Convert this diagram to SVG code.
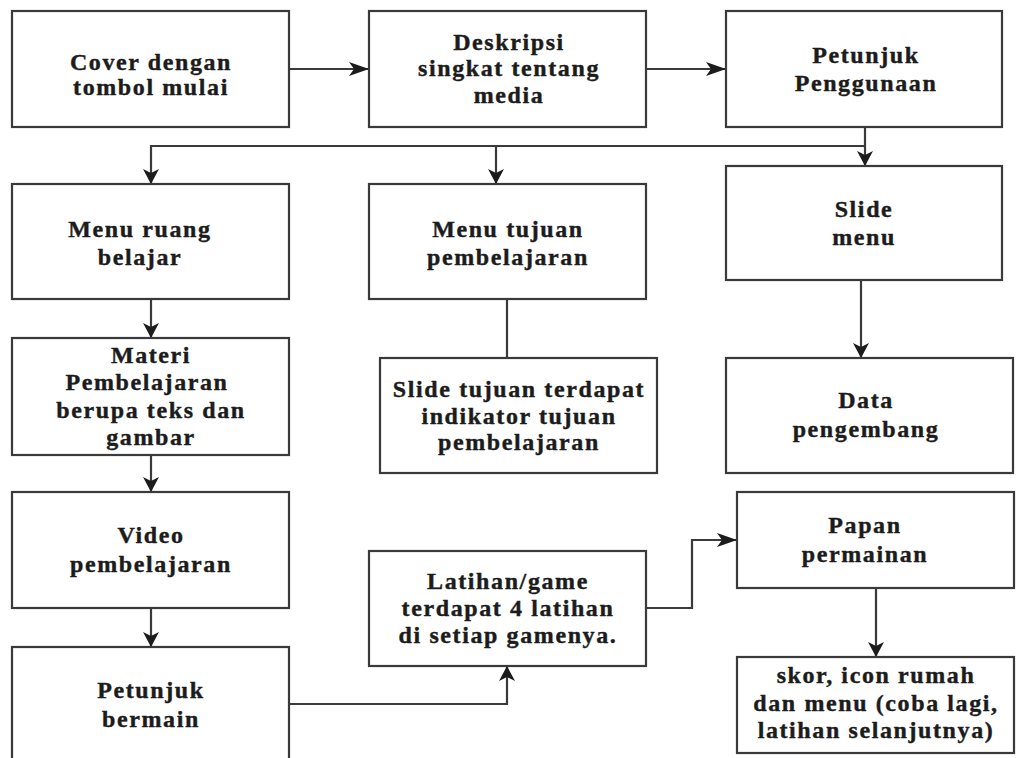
<svg xmlns="http://www.w3.org/2000/svg" width="1016" height="758" viewBox="0 0 1016 758">
<style>
.box{fill:#fff;stroke:#3a3a3a;stroke-width:2.2}
.t{font-family:"Liberation Serif","Times New Roman",serif;font-weight:bold;font-size:24px;letter-spacing:1.6px;fill:#1c1c1c;stroke:#1c1c1c;stroke-width:0.4;text-anchor:middle}
.c{fill:none;stroke:#3a3a3a;stroke-width:2.2}
</style>
<defs>
<marker id="av" viewBox="0 0 15 16" markerWidth="15" markerHeight="16" refX="15" refY="8" orient="auto" markerUnits="userSpaceOnUse"><path d="M0,0 L15,8 L0,16 L4,8 z" fill="#1c1c1c"/></marker>
<marker id="ah" viewBox="0 0 20 14" markerWidth="20" markerHeight="14" refX="20" refY="7" orient="auto" markerUnits="userSpaceOnUse"><path d="M0,0 L20,7 L0,14 L5,7 z" fill="#1c1c1c"/></marker>
</defs>
<rect width="1016" height="758" fill="#fff"/>
<g id="connectors">
<line class="c" x1="289" y1="69" x2="369" y2="69" marker-end="url(#ah)"/>
<line class="c" x1="646" y1="69" x2="726" y2="69" marker-end="url(#ah)"/>
<line class="c" x1="865" y1="127" x2="865" y2="166" marker-end="url(#av)"/>
<polyline class="c" points="865,146 151,146 151,184" marker-end="url(#av)"/>
<line class="c" x1="496" y1="146" x2="496" y2="184" marker-end="url(#av)"/>
<line class="c" x1="151" y1="299" x2="151" y2="338" marker-end="url(#av)"/>
<line class="c" x1="151" y1="455" x2="151" y2="492" marker-end="url(#av)"/>
<line class="c" x1="151" y1="608" x2="151" y2="647" marker-end="url(#av)"/>
<line class="c" x1="507" y1="299" x2="507" y2="358"/>
<line class="c" x1="861" y1="280" x2="861" y2="358" marker-end="url(#av)"/>
<polyline class="c" points="289,704 507,704 507,666" marker-end="url(#av)"/>
<polyline class="c" points="646,608 692,608 692,540 737,540" marker-end="url(#ah)"/>
<line class="c" x1="876" y1="588" x2="876" y2="657" marker-end="url(#av)"/>
</g>
<g id="cover"><rect class="box" x="12" y="11" width="277" height="116"/>
<text class="t" x="151" y="70">Cover dengan</text><text class="t" x="151" y="95">tombol mulai</text></g>
<g id="deskripsi"><rect class="box" x="369" y="11" width="277" height="116"/>
<text class="t" x="509" y="50">Deskripsi</text><text class="t" x="509" y="76">singkat tentang</text><text class="t" x="509" y="103">media</text></g>
<g id="petunjuk-penggunaan"><rect class="box" x="726" y="11" width="276" height="116"/>
<text class="t" x="866" y="63">Petunjuk</text><text class="t" x="866" y="91">Penggunaan</text></g>
<g id="menu-ruang"><rect class="box" x="12" y="184" width="277" height="115"/>
<text class="t" x="140" y="237">Menu ruang</text><text class="t" x="140" y="265">belajar</text></g>
<g id="menu-tujuan"><rect class="box" x="369" y="184" width="277" height="115"/>
<text class="t" x="508" y="237">Menu tujuan</text><text class="t" x="508" y="265">pembelajaran</text></g>
<g id="slide-menu"><rect class="box" x="726" y="166" width="276" height="114"/>
<text class="t" x="864" y="217">Slide</text><text class="t" x="864" y="245">menu</text></g>
<g id="materi"><rect class="box" x="12" y="338" width="277" height="117"/>
<text class="t" x="151" y="363">Materi</text><text class="t" x="147" y="390">Pembelajaran</text><text class="t" x="151" y="418">berupa teks dan</text><text class="t" x="151" y="445">gambar</text></g>
<g id="slide-tujuan"><rect class="box" x="380" y="358" width="277" height="115"/>
<text class="t" x="519" y="397">Slide tujuan terdapat</text><text class="t" x="519" y="424">indikator tujuan</text><text class="t" x="519" y="450">pembelajaran</text></g>
<g id="data-pengembang"><rect class="box" x="726" y="358" width="287" height="115"/>
<text class="t" x="866" y="408">Data</text><text class="t" x="866" y="437">pengembang</text></g>
<g id="video"><rect class="box" x="12" y="492" width="277" height="116"/>
<text class="t" x="151" y="543">Video</text><text class="t" x="151" y="572">pembelajaran</text></g>
<g id="petunjuk-bermain"><rect class="box" x="12" y="647" width="277" height="130"/>
<text class="t" x="151" y="698">Petunjuk</text><text class="t" x="151" y="727">bermain</text></g>
<g id="latihan"><rect class="box" x="369" y="551" width="277" height="115"/>
<text class="t" x="508" y="589">Latihan/game</text><text class="t" x="508" y="616">terdapat 4 latihan</text><text class="t" x="508" y="643">di setiap gamenya.</text></g>
<g id="papan"><rect class="box" x="737" y="492" width="277" height="96"/>
<text class="t" x="865" y="533">Papan</text><text class="t" x="865" y="562">permainan</text></g>
<g id="skor"><rect class="box" x="737" y="657" width="277" height="96"/>
<text class="t" x="876" y="683">skor, icon rumah</text><text class="t" x="876" y="711">dan menu (coba lagi,</text><text class="t" x="876" y="738">latihan selanjutnya)</text></g>
</svg>
